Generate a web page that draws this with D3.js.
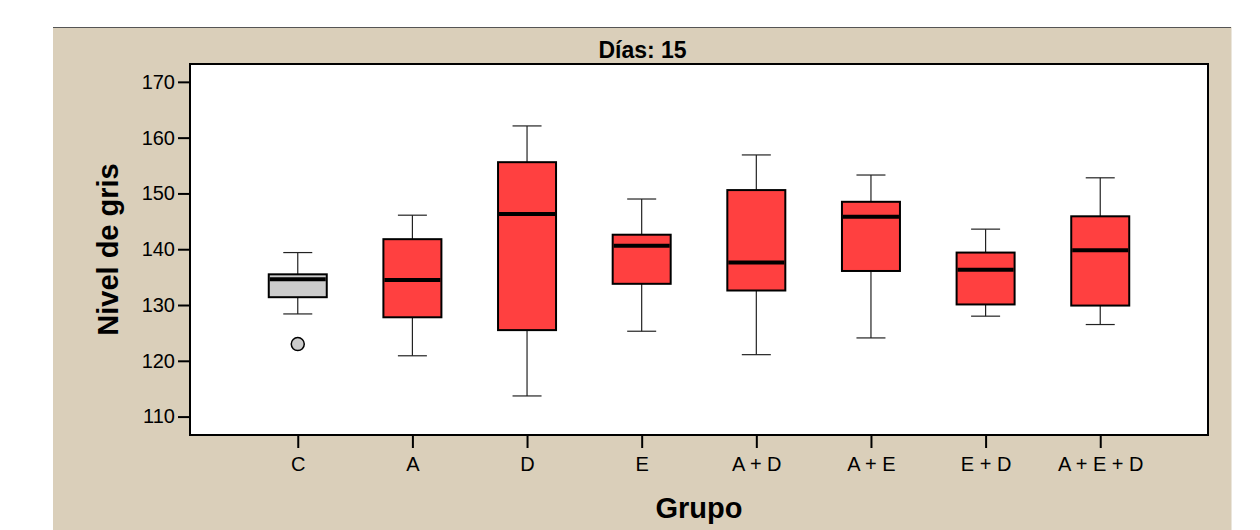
<!DOCTYPE html>
<html>
<head>
<meta charset="utf-8">
<script src="https://cdn.jsdelivr.net/npm/d3@7"></script>
<style>
  body { margin: 0; background: #fff; }
  text { font-family: "Liberation Sans", Arial, sans-serif; fill: #000; }
</style>
</head>
<body>
<div id="chart"></div>
<script>
// values (Días: 15)
const groups = ["C", "A", "D", "E", "A + D", "A + E", "E + D", "A + E + D"];
const whiskerLow  = [128.4, 120.9, 113.7, 125.3, 121.1, 124.1, 128.0, 126.5];
const q1          = [131.4, 127.8, 125.5, 133.8, 132.6, 136.1, 130.1, 129.9];
const median      = [134.6, 134.5, 146.3, 140.6, 137.6, 145.8, 136.3, 139.8];
const q3          = [135.5, 141.8, 155.6, 142.6, 150.6, 148.5, 139.4, 145.9];
const whiskerHigh = [139.4, 146.1, 162.1, 149.0, 156.9, 153.3, 143.6, 152.8];
const outliers    = [{ group: "C", value: 123.0 }];
const yTicks = [110, 120, 130, 140, 150, 160, 170];

const width = 1260, height = 530;
const panel = { x: 53, y: 27, w: 1179 };
const margin = { top: 64, left: 190, right: 52, bottom: 95 };
const plotW = width - margin.left - margin.right;
const plotH = height - margin.top - margin.bottom;

const svg = d3.select("#chart").append("svg")
    .attr("width", width)
    .attr("height", height);

// beige panel
svg.append("rect")
    .attr("x", panel.x).attr("y", panel.y)
    .attr("width", panel.w).attr("height", height - panel.y)
    .attr("fill", "#dacfba");
svg.append("line")
    .attr("x1", panel.x).attr("x2", panel.x + panel.w)
    .attr("y1", panel.y + 0.5).attr("y2", panel.y + 0.5)
    .attr("stroke", "#555").attr("stroke-width", 1);
svg.append("line")
    .attr("x1", panel.x + panel.w - 0.5).attr("x2", panel.x + panel.w - 0.5)
    .attr("y1", panel.y).attr("y2", height)
    .attr("stroke", "#ebe6dc").attr("stroke-width", 1);

const x = d3.scalePoint()
    .domain(groups)
    .range([0, plotW])
    .padding(0.94);

const y = d3.scaleLinear()
    .domain([106.7, 173.2])
    .range([plotH, 0]);

const boxW = 58;

const g = svg.append("g")
    .attr("transform", `translate(${margin.left},${margin.top})`);

g.append("rect")
    .attr("width", plotW).attr("height", plotH)
    .attr("fill", "#fff")
    .attr("stroke", "#000")
    .attr("stroke-width", 2);

// axes
const yAxis = g.append("g")
    .call(d3.axisLeft(y).tickValues(yTicks).tickSize(12).tickPadding(3));
const xAxis = g.append("g")
    .attr("transform", `translate(0,${plotH})`)
    .call(d3.axisBottom(x).tickSize(13).tickPadding(9));

[yAxis, xAxis].forEach(a => {
    a.select(".domain").remove();
    a.selectAll(".tick line").attr("stroke", "#000").attr("stroke-width", 2);
    a.selectAll(".tick text")
        .attr("font-family", "'Liberation Sans', Arial, sans-serif")
        .attr("font-size", 20)
        .attr("fill", "#000");
});

const rows = groups.map((k, i) => ({
    k, lo: whiskerLow[i], q1: q1[i], med: median[i], q3: q3[i], hi: whiskerHigh[i]
}));

const box = g.selectAll(".box")
    .data(rows)
    .enter().append("g")
    .attr("class", "box")
    .attr("transform", d => `translate(${x(d.k)},0)`);

// whiskers
box.append("line")
    .attr("x1", 0).attr("x2", 0)
    .attr("y1", d => y(d.hi)).attr("y2", d => y(d.lo))
    .attr("stroke", "#222").attr("stroke-width", 1.2);
box.selectAll(".cap")
    .data(d => [d.lo, d.hi])
    .enter().append("line")
    .attr("class", "cap")
    .attr("x1", -boxW / 4).attr("x2", boxW / 4)
    .attr("y1", v => y(v)).attr("y2", v => y(v))
    .attr("stroke", "#222").attr("stroke-width", 1.2);

box.append("rect")
    .attr("x", -boxW / 2)
    .attr("width", boxW)
    .attr("y", d => y(d.q3))
    .attr("height", d => y(d.q1) - y(d.q3))
    .attr("fill", d => d.k === "C" ? "#cccccc" : "#ff4040")
    .attr("stroke", "#000")
    .attr("stroke-width", 2);

box.append("line")
    .attr("x1", -boxW / 2 + 1).attr("x2", boxW / 2 - 1)
    .attr("y1", d => y(d.med)).attr("y2", d => y(d.med))
    .attr("stroke", "#000").attr("stroke-width", 4);

g.selectAll(".outlier")
    .data(outliers)
    .enter().append("circle")
    .attr("class", "outlier")
    .attr("cx", d => x(d.group))
    .attr("cy", d => y(d.value))
    .attr("r", 6.5)
    .attr("fill", "#cccccc")
    .attr("stroke", "#000")
    .attr("stroke-width", 1.5);

// titles
svg.append("text")
    .attr("x", panel.x + panel.w / 2)
    .attr("y", 58)
    .attr("text-anchor", "middle")
    .attr("font-weight", "bold")
    .attr("font-size", 23)
    .text("Días: 15");

svg.append("text")
    .attr("transform", `translate(118,${margin.top + plotH / 2}) rotate(-90)`)
    .attr("text-anchor", "middle")
    .attr("font-weight", "bold")
    .attr("font-size", 29)
    .text("Nivel de gris");

svg.append("text")
    .attr("x", margin.left + plotW / 2)
    .attr("y", 518)
    .attr("text-anchor", "middle")
    .attr("font-weight", "bold")
    .attr("font-size", 29)
    .text("Grupo");
</script>
</body>
</html>
